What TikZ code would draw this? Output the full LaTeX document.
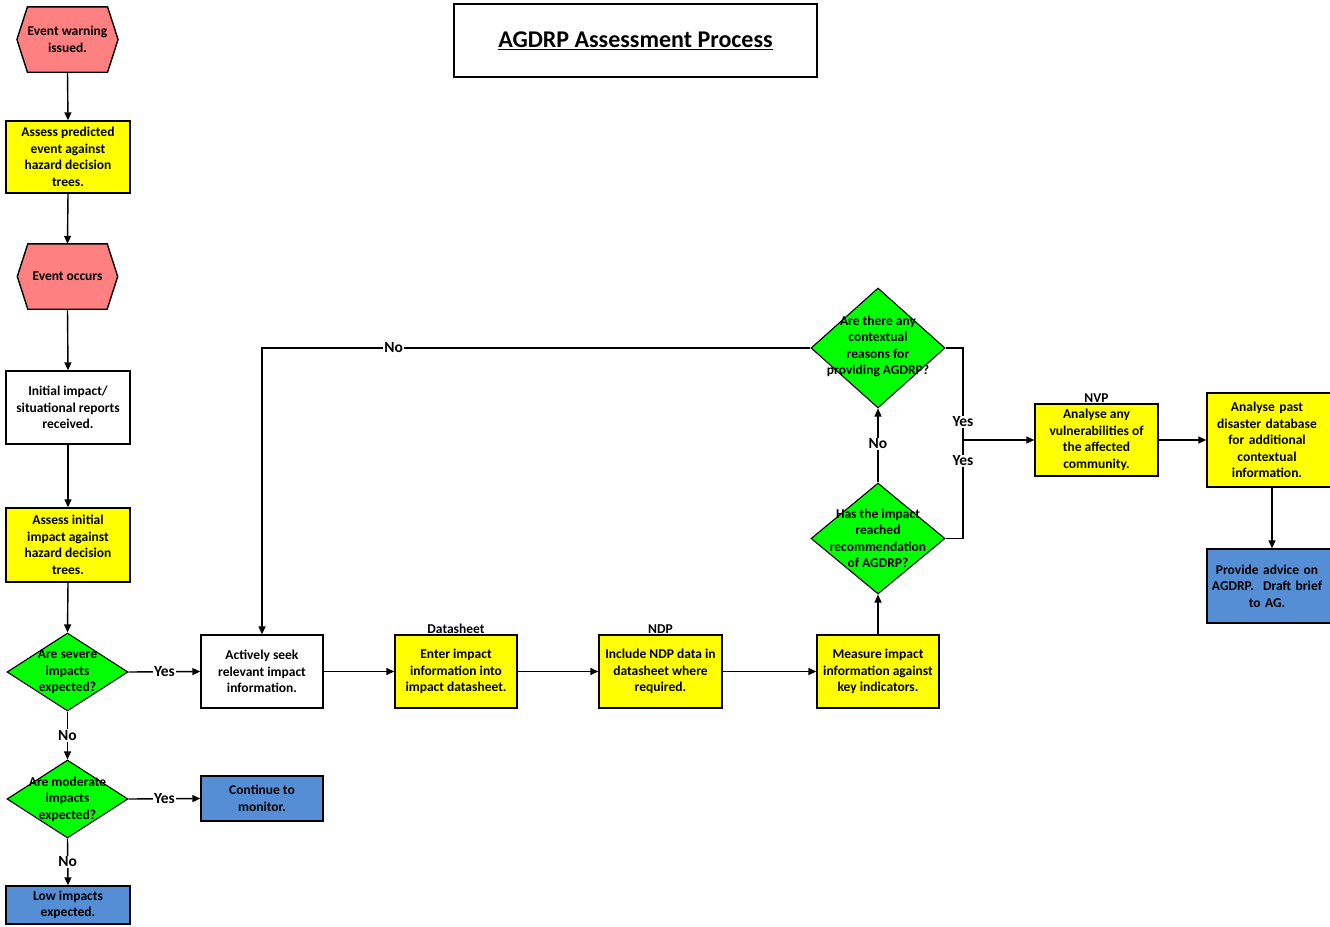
\documentclass[tikz,border=0pt]{standalone}
\usepackage{fontspec}
\setmainfont{Carlito}
\usetikzlibrary{shapes.geometric,arrows.meta,backgrounds}
\definecolor{pinkc}{RGB}{255,128,128}
\definecolor{yelc}{RGB}{255,255,0}
\definecolor{grnc}{RGB}{0,255,0}
\definecolor{bluc}{RGB}{85,142,213}
\begin{document}
\begin{tikzpicture}[x=1pt,y=-1pt,
  font=\bfseries\fontsize{13.5}{16.5}\selectfont,
  box/.style={draw, line width=1.4pt, inner sep=0pt, align=center, minimum width=123pt, minimum height=73pt},
  ybox/.style={box, fill=yelc},
  bbox/.style={box, fill=bluc},
  hexn/.style={inner sep=0pt, align=center, minimum width=79pt, minimum height=65pt},
  dia/.style={diamond, draw, fill=grnc, line width=1.1pt, inner sep=0pt},
  arr/.style={line width=1.4pt, -{Triangle[length=8pt,width=7pt]}},
  ln/.style={line width=1.4pt},
  lbl/.style={fill=white, inner sep=1pt, font=\bfseries\fontsize{15.5}{18}\selectfont},
  tag/.style={font=\bfseries\fontsize{13.5}{15}\selectfont, inner sep=1pt}
]
\useasboundingbox (0,0) rectangle (1330,926);
\clip (0,0) rectangle (1330,926);

% title
\node[draw, line width=1.4pt, minimum width=363pt, minimum height=73pt,
  font=\bfseries\fontsize{24}{28}\selectfont] (title) at (635.5,40.5) {\underline{AGDRP Assessment Process}};

% left column
\node[hexn] (h1) at (67.5,39.5) {Event warning\\issued.};
\node[ybox, minimum width=124pt, minimum height=72pt] (b1) at (68,157) {Assess predicted\\event against\\hazard decision\\trees.};
\node[hexn] (h2) at (67.5,276.5) {Event occurs};
\node[box, minimum width=124pt, minimum height=73pt] (b2) at (68,407.5) {Initial impact/\\situational reports\\received.};
\node[ybox, minimum width=124pt, minimum height=74pt] (b3) at (68,545) {Assess initial\\impact against\\hazard decision\\trees.};
\node[dia, minimum width=121pt, minimum height=78pt,
  label={[align=center, name=d1t]center:Are severe\\impacts\\expected?}] (d1) at (67.5,672) {};
\node[dia, minimum width=121pt, minimum height=78pt,
  label={[align=center, name=d2t]center:Are moderate\\impacts\\expected?}] (d2) at (67.5,799) {};
\node[bbox, minimum width=124pt, minimum height=38pt] (low) at (68,905) {Low impacts\\expected.};
\node[bbox, minimum width=122pt, minimum height=45pt] (cont) at (262,798.5) {Continue to\\monitor.};

% bottom row
\node[box, minimum width=122pt] (act) at (262,671.5) {Actively seek\\relevant impact\\information.};
\node[ybox, minimum width=122pt, label={[tag, name=dst]above:Datasheet}] (ent) at (456,671.5) {Enter impact\\information into\\impact datasheet.};
\node[ybox, minimum width=123pt, label={[tag, name=ndpt]above:NDP}] (incl) at (660.5,671.5) {Include NDP data in\\datasheet where\\required.};
\node[ybox, minimum width=122pt] (meas) at (878,671.5) {Measure impact\\information against\\key indicators.};

% decisions on right
\node[dia, minimum width=134pt, minimum height=111pt,
  label={[align=center, name=d3t]center:Has the impact\\reached\\recommendation\\of AGDRP?}] (has) at (878,538.5) {};
\node[dia, minimum width=134pt, minimum height=120pt,
  label={[align=center, name=d4t, yshift=1.5pt]center:Are there any\\contextual\\reasons for\\providing AGDRP?}] (ctx) at (878,348) {};

% right boxes
\node[ybox, minimum width=123pt, minimum height=72pt, label={[tag, name=nvpt]above:NVP}] (nvp) at (1096.5,440) {Analyse any\\vulnerabilities of\\the affected\\community.};
\node[ybox, minimum width=130pt, minimum height=94pt, text width=124pt, align=center] (past) at (1272,440) {\hspace*{-10pt}Analyse past\\\hspace*{-10pt}disaster database\\\hspace*{-10pt}for additional\\\hspace*{-10pt}contextual\\\hspace*{-10pt}information.};
\node[bbox, minimum width=130pt, minimum height=74pt, text width=124pt, align=center] (prov) at (1272,586) {\hspace*{-10pt}Provide advice on\\\hspace*{-10pt}AGDRP.\ \ Draft brief\\\hspace*{-10pt}to AG.};

\coordinate (j) at (963,440);

% hexagon outlines
\begin{pgfonlayer}{background}
\filldraw[fill=pinkc, line width=1.4pt] (h1.north west) -- (h1.north east) -- ([xshift=10.5pt]h1.east) -- (h1.south east) -- (h1.south west) -- ([xshift=-10.5pt]h1.west) -- cycle;
\filldraw[fill=pinkc, line width=1.4pt] (h2.north west) -- (h2.north east) -- ([xshift=10.5pt]h2.east) -- (h2.south east) -- (h2.south west) -- ([xshift=-10.5pt]h2.west) -- cycle;
\end{pgfonlayer}

% connectors
\draw[arr] (h1.south) -- (b1.north);
\draw[arr] (b1.south) -- (h2.north);
\draw[arr] (h2.south) -- (b2.north);
\draw[arr] (b2.south) -- (b3.north);
\draw[arr] (b3.south) -- (d1.north);
\draw[arr] (d1.east) -- node[lbl] (y1) {Yes} (act.west);
\draw[arr] (d1.south) -- node[lbl] (n1) {No} (d2.north);
\draw[arr] (d2.east) -- node[lbl] (y2) {Yes} (cont.west);
\draw[arr] (d2.south) -- node[lbl] (n2) {No} (low.north);
\draw[arr] (act.east) -- (ent.west);
\draw[arr] (ent.east) -- (incl.west);
\draw[arr] (incl.east) -- (meas.west);
\draw[arr] (meas.north) -- (has.south);
\draw[arr] (has.north) -- node[lbl, pos=0.52] (n3) {No} (ctx.south);
\draw[arr] (ctx.west) -| node[lbl, pos=0.38] (n4) {No} (act.north);
\draw[ln] (ctx.east) -| (j);
\draw[ln] (has.east) -| (j);
\draw[arr] (j) -- (nvp.west);
\node[lbl] (y3) at (963,422) {Yes};
\node[lbl] (y4) at (963,461) {Yes};
\draw[arr] (nvp.east) -- (past.west);
\draw[arr] (past.south) -- (prov.north);
\end{tikzpicture}
\end{document}
